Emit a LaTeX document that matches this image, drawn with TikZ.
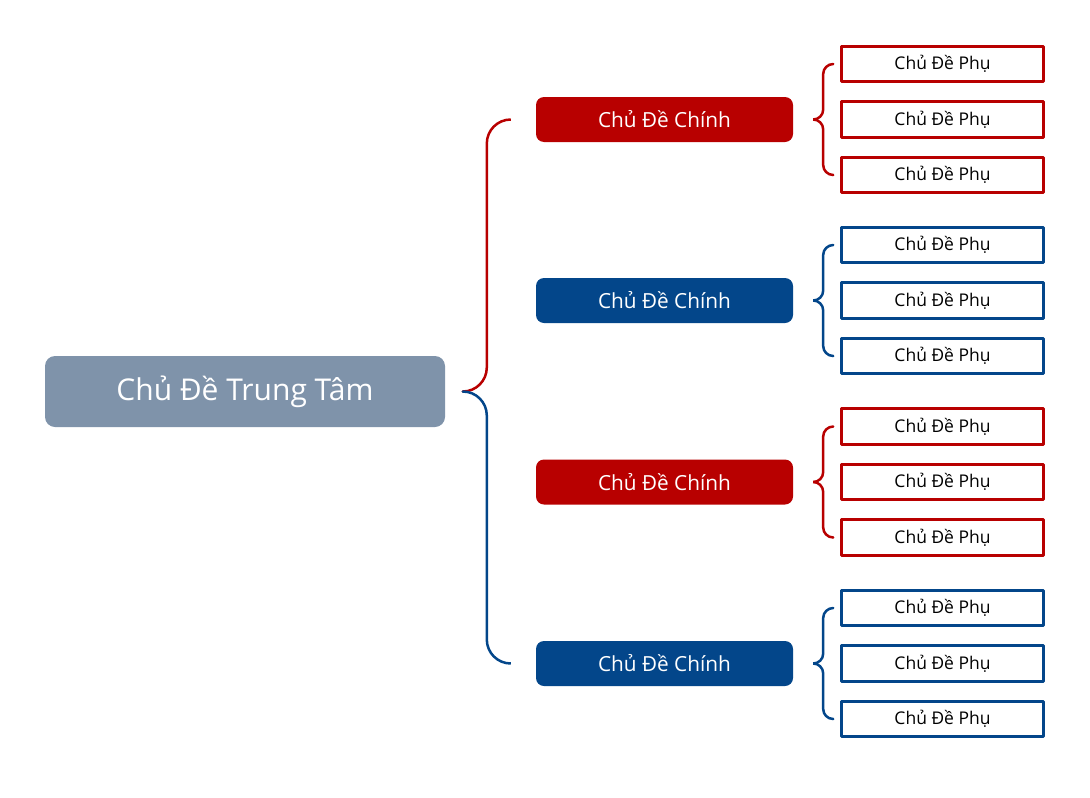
\documentclass[tikz,border=0pt]{standalone}
\usepackage{fontspec}
\setmainfont{Open Sans}
\usetikzlibrary{positioning}

\definecolor{chinhred}{HTML}{B80000}
\definecolor{chinhblue}{HTML}{03468A}
\definecolor{trungtam}{HTML}{7F93AA}

\begin{document}
\begin{tikzpicture}[x=1pt, y=-1pt, line join=round]

% Estilos de los nodos y ramas
\tikzset{
    trungtambox/.style={
        fill=trungtam, text=white,
        rounded corners=10pt,
        minimum width=400pt, minimum height=71pt,
        font=\fontsize{30}{36}\selectfont
    },
    chinhbox/.style={
        fill=#1, text=white,
        rounded corners=8pt,
        minimum width=257pt, minimum height=45pt,
        font=\fontsize{20.8}{25}\selectfont
    },
    phubox/.style={
        draw=#1, fill=white, line width=2.6pt,
        minimum width=202.5pt, minimum height=35.5pt,
        font=\fontsize{17.5}{21}\selectfont
    },
    nhanh/.style={draw=#1, line width=2.5pt, rounded corners=24pt},
    nhanhphu/.style={draw=#1, line width=2.5pt, rounded corners=10pt}
}

\useasboundingbox (0,0) rectangle (1090,798);

% =============================================
% NODO CENTRAL
% =============================================
\node[trungtambox] (tt) at (245,391.5) {Chủ Đề Trung Tâm};

% =============================================
% TEMAS PRINCIPALES Y SUBTEMAS
% =============================================
\foreach \i/\y/\mau in {1/119.5/chinhred, 2/300.5/chinhblue, 3/482/chinhred, 4/663.5/chinhblue} {
    \node[chinhbox=\mau] (c\i) at (664.5,\y) {Chủ Đề Chính};

    % subtemas (tres por tema)
    \node[phubox=\mau] (p\i1) at (942.5,\y-55.5) {Chủ Đề Phụ};
    \node[phubox=\mau] (p\i2) at (942.5,\y) {Chủ Đề Phụ};
    \node[phubox=\mau] (p\i3) at (942.5,\y+55.5) {Chủ Đề Phụ};

    % llave de los subtemas
    \draw[nhanhphu=\mau] ([xshift=-7pt]p\i1.west) -| ([xshift=30pt]c\i.east) -- ([xshift=20pt]c\i.east);
    \draw[nhanhphu=\mau] ([xshift=-7pt]p\i3.west) -| ([xshift=30pt]c\i.east) -- ([xshift=20pt]c\i.east);
}

% =============================================
% LLAVE CENTRAL
% =============================================
\draw[nhanh=chinhred] ([xshift=18pt]tt.east) -| ([xshift=-49pt]c1.west) -- ([xshift=-25pt]c1.west);
\draw[nhanh=chinhblue] ([xshift=18pt]tt.east) -| ([xshift=-49pt]c4.west) -- ([xshift=-25pt]c4.west);

\end{tikzpicture}
\end{document}
